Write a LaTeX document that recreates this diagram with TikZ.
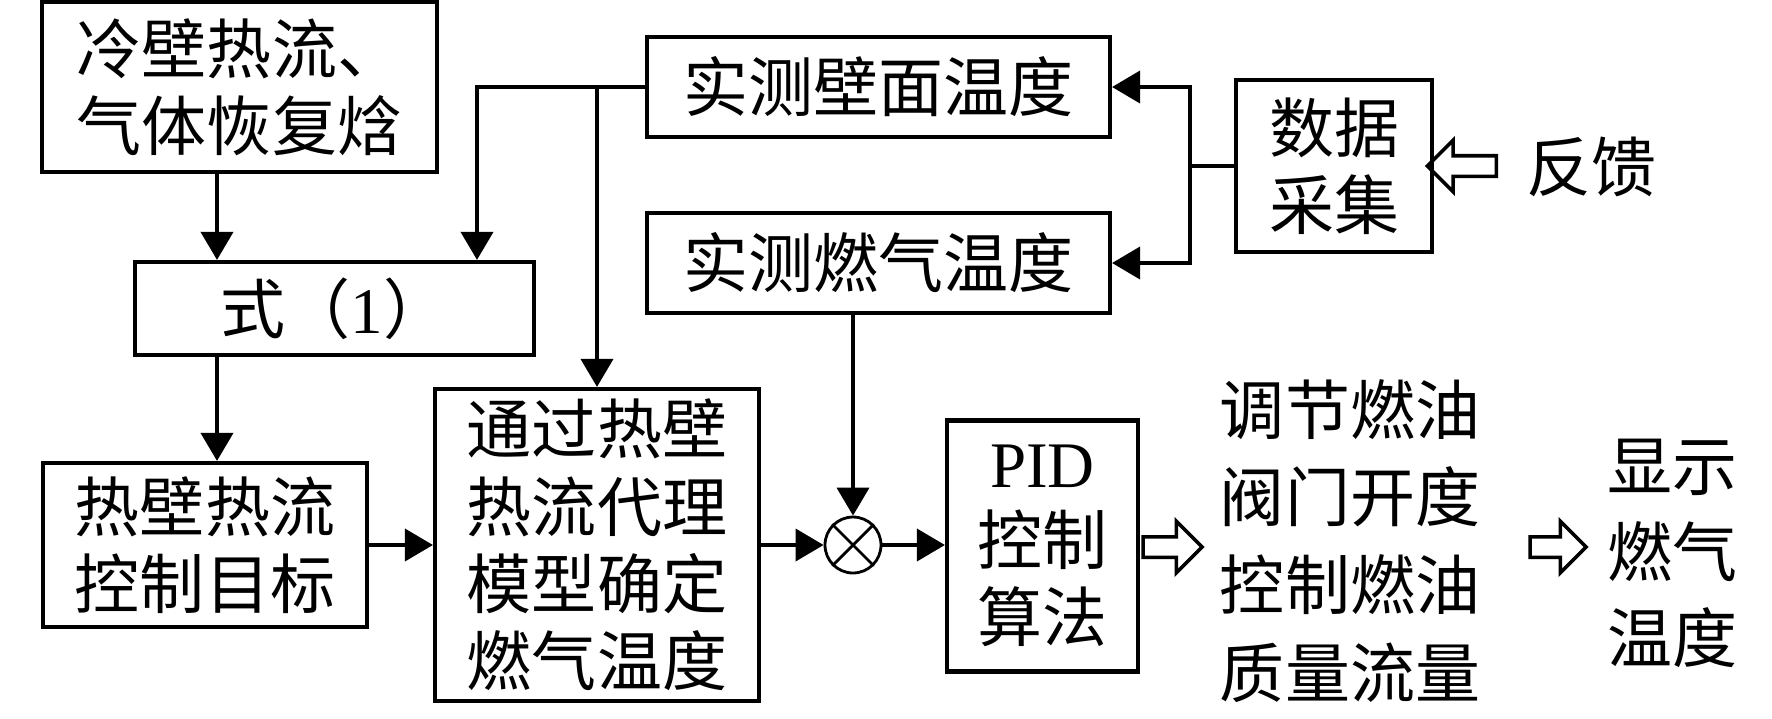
\documentclass[tikz,border=0pt]{standalone}
\usepackage{fontspec}
\setmainfont{Liberation Serif}
\newfontfamily\cjk{Noto Sans CJK SC}
\usepackage{tikz}
\usetikzlibrary{arrows.meta, positioning, shapes.arrows}

\begin{document}
\begin{tikzpicture}[
    x=0.02cm, y=-0.02cm,
    block/.style={rectangle, draw, line width=2.4pt, align=center, inner sep=0pt, font=\cjk\fontsize{37}{44}\selectfont},
    plain/.style={align=center, inner sep=0pt, font=\cjk\fontsize{37}{50}\selectfont},
    arrow/.style={-{Triangle[length=0.56cm, width=0.64cm]}, line width=2.2pt},
    hollow/.style={single arrow, draw, line width=2pt, inner xsep=0pt, inner ysep=0.17cm, single arrow head extend=0.31cm}
]
    \useasboundingbox (0,0) rectangle (1772,718);

    % Boxes
    \node[block, minimum width=7.9cm, minimum height=3.4cm] (cold) at (239.5,87) {冷壁热流、\\气体恢复焓};
    \node[block, minimum width=7.98cm, minimum height=1.86cm] (eq) at (334.5,308.5) {式（{\rmfamily 1}）};
    \node[block, minimum width=6.48cm, minimum height=3.28cm] (target) at (205,545) {热壁热流\\控制目标};
    \node[block, minimum width=6.48cm, minimum height=6.24cm] (model) at (597,545) {通过热壁\\热流代理\\模型确定\\燃气温度};
    \node[block, minimum width=9.26cm, minimum height=2cm] (wall) at (878.5,87) {实测壁面温度};
    \node[block, minimum width=9.26cm, minimum height=2cm] (gas) at (878.5,263) {实测燃气温度};
    \node[block, minimum width=3.92cm, minimum height=3.44cm] (daq) at (1334,166) {数据\\采集};
    \node[block, minimum width=3.82cm, minimum height=5.02cm] (pid) at (1042.5,546) {{\rmfamily PID}\\控制\\算法};
    \node[circle, draw, line width=1.6pt, minimum size=1.12cm, inner sep=0pt] (sum) at (853,545) {};
    \draw[line width=1.6pt] (sum.north west) -- (sum.south east) (sum.north east) -- (sum.south west);

    % Texts
    \node[plain] (fb) at (1591,167) {反馈};
    \node[plain] (act) at (1350,541) {调节燃油\\阀门开度\\控制燃油\\质量流量};
    \node[plain, font=\cjk\fontsize{37}{49}\selectfont] (show) at (1672,553) {显示\\燃气\\温度};

    % Hollow arrows
    \node[hollow, shape border rotate=180, minimum height=1.38cm] (fbin) at (1467,166) {};
    \node[hollow, minimum height=1.18cm] (out) at (1167.5,547) {};
    \node[hollow, minimum height=1.12cm] (disp) at (1553,547) {};

    % Arrows
    \coordinate (colx) at (217,0);
    \coordinate (fbx) at (477,0);
    \coordinate (busx) at (1190,0);
    \draw[arrow] (cold.south -| colx) -- (eq.north -| colx);
    \draw[arrow] (eq.south -| colx) -- (target.north -| colx);
    \draw[arrow] (wall.west) -| (eq.north -| fbx);
    \draw[arrow] (wall.west -| model.north) -- (model.north);
    \draw[arrow] (target.east) -- (model.west);
    \draw[arrow] (model.east) -- (sum.west);
    \draw[arrow] (gas.south -| sum.north) -- (sum.north);
    \draw[arrow] (sum.east) -- (sum.east -| pid.west);
    \draw[line width=2.2pt] (daq.west) -- (daq.west -| busx);
    \draw[arrow] (daq.west -| busx) |- (wall.east);
    \draw[arrow] (daq.west -| busx) |- (gas.east);
\end{tikzpicture}
\end{document}
